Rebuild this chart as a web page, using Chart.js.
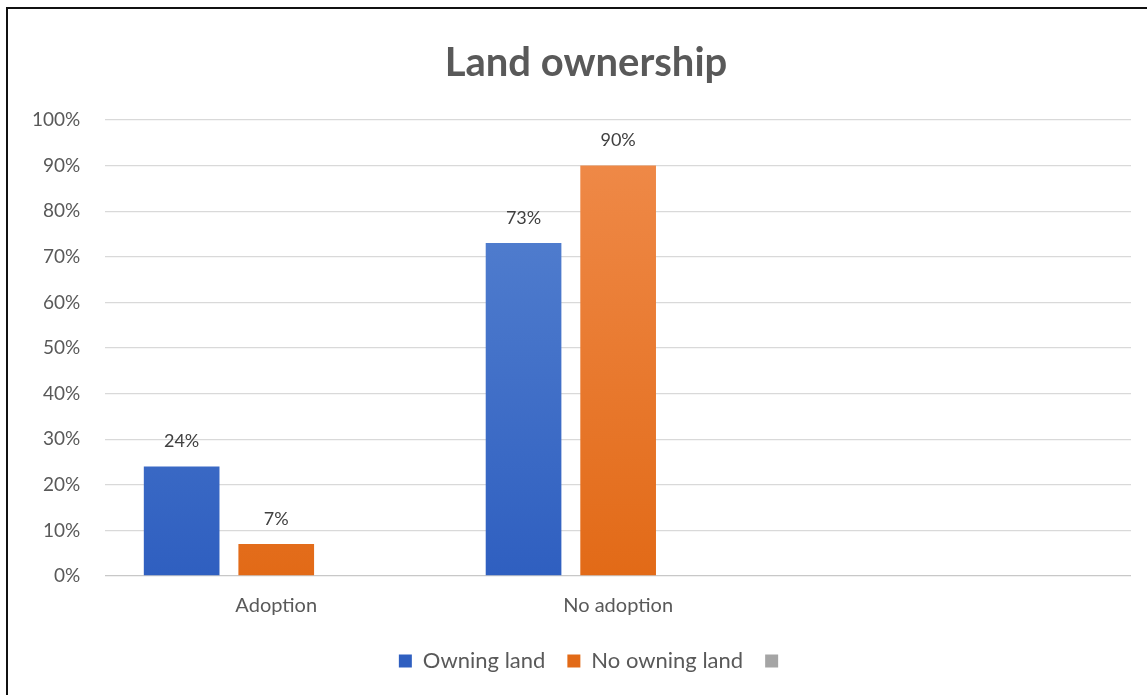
<!DOCTYPE html>
<html>
<head>
<meta charset="utf-8">
<script src="https://cdn.jsdelivr.net/npm/chart.js@4.4.1/dist/chart.umd.min.js"></script>
<style>
  html, body { margin: 0; padding: 0; background: #fff; }
  #wrap { position: relative; width: 1147px; height: 695px; overflow: hidden; }
  #frame { position: absolute; left: 6px; top: 7px; right: -4px; bottom: -4px;
           border-left: 2px solid #111; border-top: 2px solid #111; }
  #box { position: absolute; left: 8px; top: 9px; width: 1139px; height: 686px; }
</style>
</head>
<body>
<div id="wrap">
  <div id="frame"></div>
  <div id="box"><canvas id="chart"></canvas></div>
</div>
<script>
// --- DATA ---
const categories = ['Adoption', 'No adoption', ''];
const owningLand = [24, 73, null];
const noOwningLand = [7, 90, null];
const unnamedSeries = [null, null, null];
const yTicks = [0, 10, 20, 30, 40, 50, 60, 70, 80, 90, 100];

const textColor = '#595959';
const fontFamily = 'Lato, "Open Sans", sans-serif';

// vertical gradient inside each bar, like the Excel fill
function barGradient(top, bottom) {
    return function (ctx) {
        const chart = ctx.chart;
        const area = chart.chartArea;
        if (!area) return bottom;
        const g = chart.ctx.createLinearGradient(0, area.top, 0, area.bottom);
        g.addColorStop(0, top);
        g.addColorStop(1, bottom);
        return g;
    };
}

// labels above bars ("24%")
const valueLabels = {
    id: 'valueLabels',
    afterDatasetsDraw(chart) {
        const ctx = chart.ctx;
        ctx.save();
        ctx.font = '18px ' + fontFamily;
        ctx.fillStyle = '#404040';
        ctx.textAlign = 'center';
        ctx.textBaseline = 'bottom';
        chart.data.datasets.forEach(function (ds, i) {
            const meta = chart.getDatasetMeta(i);
            meta.data.forEach(function (bar, j) {
                const v = ds.data[j];
                if (v === null || v === undefined) return;
                ctx.fillText(v + '%', bar.x, bar.y - 16);
            });
        });
        ctx.restore();
    }
};

// title and legend sit a little right of centre in the original
const blockShift = {
    id: 'blockShift',
    afterLayout(chart) {
        chart.legend.left += 25;
        chart.legend.right += 25;
        chart.titleBlock.left += 17;
        chart.titleBlock.right += 17;
    }
};

new Chart(document.getElementById('chart').getContext('2d'), {
    type: 'bar',
    data: {
        labels: categories,
        datasets: [{
            label: 'Owning land',
            data: owningLand,
            backgroundColor: barGradient('#5a86d2', '#2f5fc0'),
            borderWidth: 0
        }, {
            label: 'No owning land',
            data: noOwningLand,
            backgroundColor: barGradient('#f08c4c', '#e26a17'),
            borderWidth: 0
        }, {
            label: '',
            data: unnamedSeries,
            backgroundColor: '#a5a5a5',
            borderWidth: 0
        }]
    },
    options: {
        responsive: true,
        maintainAspectRatio: false,
        animation: false,
        categoryPercentage: 0.83,
        barPercentage: 0.8,
        layout: { padding: { left: -1, right: 16, top: 30, bottom: 13 } },
        plugins: {
            title: {
                display: true,
                text: 'Land ownership',
                color: textColor,
                font: { family: fontFamily, size: 40, weight: 'bold' },
                padding: { top: 0, bottom: 33 }
            },
            legend: {
                position: 'bottom',
                labels: {
                    color: textColor,
                    font: { family: fontFamily, size: 22 },
                    boxWidth: 13,
                    boxHeight: 13,
                    padding: 22
                }
            },
            tooltip: { enabled: false }
        },
        scales: {
            x: {
                grid: { display: false },
                border: { display: false },
                ticks: {
                    color: textColor,
                    font: { family: fontFamily, size: 20 },
                    padding: 10
                }
            },
            y: {
                min: 0,
                max: 100,
                afterBuildTicks: function (axis) {
                    axis.ticks = yTicks.map(function (v) { return { value: v }; });
                },
                grid: {
                    color: function (ctx) { return ctx.tick.value === 0 ? '#c8c8c8' : '#d9d9d9'; },
                    lineWidth: 1.3,
                    drawTicks: false
                },
                border: { display: false },
                ticks: {
                    color: textColor,
                    font: { family: fontFamily, size: 19 },
                    padding: 25,
                    callback: function (v) { return v + '%'; }
                }
            }
        }
    },
    plugins: [valueLabels, blockShift]
});
</script>
</body>
</html>
